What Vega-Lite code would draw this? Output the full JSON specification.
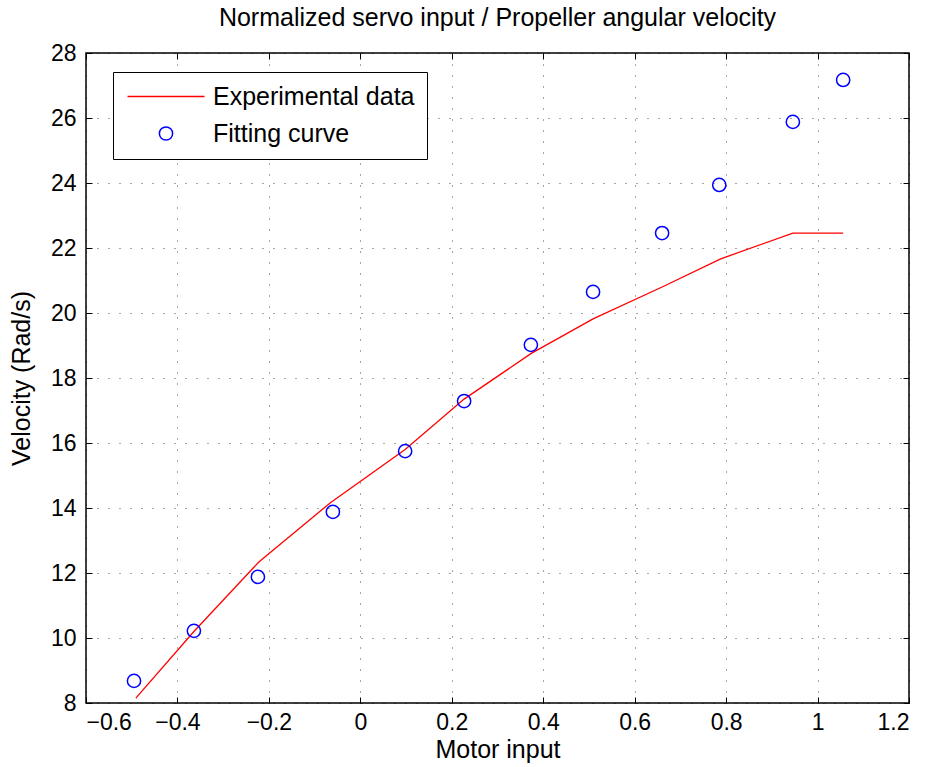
{
  "$schema": "https://vega.github.io/schema/vega-lite/v6.json",
  "width": 823,
  "height": 650,
  "autosize": "none",
  "padding": {"left": 86, "top": 53, "right": 18, "bottom": 64},
  "background": "white",
  "title": {
    "text": "Normalized servo input / Propeller angular velocity",
    "font": "Liberation Sans",
    "fontSize": 25,
    "fontWeight": "normal",
    "color": "black",
    "offset": 11
  },
  "config": {
    "view": {"stroke": "black", "strokeWidth": 1.5},
    "axis": {
      "labelFont": "Liberation Sans",
      "titleFont": "Liberation Sans",
      "labelFontSize": 23,
      "titleFontSize": 25,
      "titleFontWeight": "normal",
      "labelColor": "black",
      "titleColor": "black",
      "domain": false,
      "tickColor": "black",
      "tickSize": -6,
      "tickWidth": 1,
      "gridColor": "black",
      "gridOpacity": 0.7,
      "gridDash": [1, 10],
      "gridWidth": 1
    },
    "legend": {
      "orient": "none",
      "legendX": 27,
      "legendY": 19,
      "strokeColor": "black",
      "fillColor": "white",
      "padding": 12,
      "labelFont": "Liberation Sans",
      "labelFontSize": 25,
      "labelLimit": 500,
      "labelColor": "black",
      "symbolStrokeWidth": 1.5,
      "symbolSize": 175,
      "rowPadding": 11,
      "labelOffset": 63
    }
  },
  "data": {
    "values": [
      {"x": -0.491, "y": 8.15, "series": "Experimental data"},
      {"x": -0.364, "y": 10.2, "series": "Experimental data"},
      {"x": -0.222, "y": 12.34, "series": "Experimental data"},
      {"x": -0.064, "y": 14.18, "series": "Experimental data"},
      {"x": 0.098, "y": 15.8, "series": "Experimental data"},
      {"x": 0.227, "y": 17.35, "series": "Experimental data"},
      {"x": 0.373, "y": 18.75, "series": "Experimental data"},
      {"x": 0.509, "y": 19.82, "series": "Experimental data"},
      {"x": 0.66, "y": 20.8, "series": "Experimental data"},
      {"x": 0.787, "y": 21.66, "series": "Experimental data"},
      {"x": 0.946, "y": 22.46, "series": "Experimental data"},
      {"x": 1.056, "y": 22.46, "series": "Experimental data"},
      {"x": -0.495, "y": 8.68, "series": "Fitting curve"},
      {"x": -0.364, "y": 10.22, "series": "Fitting curve"},
      {"x": -0.224, "y": 11.88, "series": "Fitting curve"},
      {"x": -0.06, "y": 13.88, "series": "Fitting curve"},
      {"x": 0.098, "y": 15.75, "series": "Fitting curve"},
      {"x": 0.227, "y": 17.29, "series": "Fitting curve"},
      {"x": 0.373, "y": 19.02, "series": "Fitting curve"},
      {"x": 0.509, "y": 20.65, "series": "Fitting curve"},
      {"x": 0.66, "y": 22.46, "series": "Fitting curve"},
      {"x": 0.785, "y": 23.94, "series": "Fitting curve"},
      {"x": 0.946, "y": 25.88, "series": "Fitting curve"},
      {"x": 1.056, "y": 27.17, "series": "Fitting curve"}
    ]
  },
  "resolve": {"axis": {"x": "independent", "y": "independent"}},
  "layer": [
    {
      "transform": [{"filter": "datum.series === 'Experimental data'"}],
      "mark": {"type": "line", "strokeWidth": 1.3, "clip": true},
      "encoding": {
        "x": {
          "field": "x", "type": "quantitative",
          "scale": {"domain": [-0.6, 1.2], "nice": false, "zero": false},
          "axis": {"values": [-0.6, -0.4, -0.2, 0, 0.2, 0.4, 0.6, 0.8, 1, 1.2], "format": "~g", "title": "Motor input", "labelPadding": 14, "titlePadding": 3, "grid": true, "orient": "bottom"}
        },
        "y": {
          "field": "y", "type": "quantitative",
          "scale": {"domain": [8, 28], "nice": false, "zero": false},
          "axis": {"values": [8, 10, 12, 14, 16, 18, 20, 22, 24, 26, 28], "title": "Velocity (Rad/s)", "labelPadding": 16, "titlePadding": 16, "grid": true, "orient": "left"}
        },
        "color": {
          "field": "series", "type": "nominal",
          "scale": {"domain": ["Experimental data", "Fitting curve"], "range": ["#ff0000", "#0000ff"]},
          "legend": {
            "title": null,
            "encode": {
              "symbols": {
                "update": {
                  "x": {"value": 41},
                  "size": {"signal": "datum.value === 'Experimental data' ? 5929 : 175"}
                }
              }
            }
          }
        }
      }
    },
    {
      "transform": [{"filter": "datum.series === 'Fitting curve'"}],
      "mark": {"type": "point", "filled": false, "strokeWidth": 1.5, "opacity": 1, "size": 175},
      "encoding": {
        "x": {
          "field": "x", "type": "quantitative",
          "scale": {"domain": [-0.6, 1.2], "nice": false, "zero": false},
          "axis": {"values": [-0.6, -0.4, -0.2, 0, 0.2, 0.4, 0.6, 0.8, 1, 1.2], "labels": false, "title": null, "grid": false, "orient": "top"}
        },
        "y": {
          "field": "y", "type": "quantitative",
          "scale": {"domain": [8, 28], "nice": false, "zero": false},
          "axis": {"values": [8, 10, 12, 14, 16, 18, 20, 22, 24, 26, 28], "labels": false, "title": null, "grid": false, "orient": "right"}
        },
        "color": {
          "field": "series", "type": "nominal",
          "scale": {"domain": ["Experimental data", "Fitting curve"], "range": ["#ff0000", "#0000ff"]},
          "legend": {
            "title": null,
            "encode": {
              "symbols": {
                "update": {
                  "x": {"value": 41},
                  "size": {"signal": "datum.value === 'Experimental data' ? 5929 : 175"}
                }
              }
            }
          }
        },
        "shape": {
          "field": "series", "type": "nominal",
          "scale": {"domain": ["Experimental data", "Fitting curve"], "range": ["stroke", "circle"]},
          "legend": {
            "title": null,
            "encode": {
              "symbols": {
                "update": {
                  "x": {"value": 41},
                  "size": {"signal": "datum.value === 'Experimental data' ? 5929 : 175"}
                }
              }
            }
          }
        }
      }
    }
  ]
}
